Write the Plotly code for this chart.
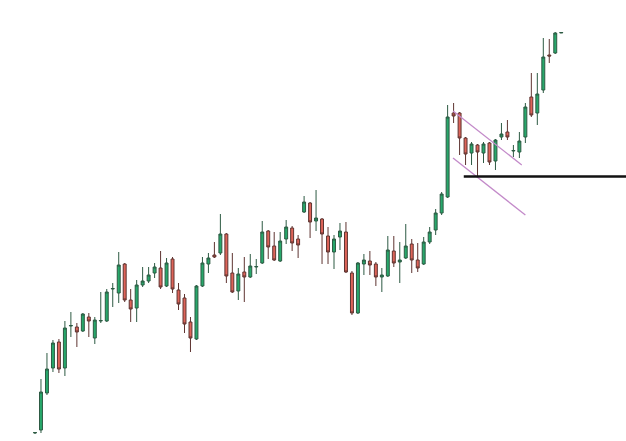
import plotly.graph_objects as go

# Candle data (index order), prices
opens = [8, 11, 48, 73, 99, 73, 115, 114, 110, 124, 103, 120, 120, 152, 148, 177, 141, 133, 156, 160,
         168, 173, 155, 182, 151, 143, 119, 102, 155, 177, 186, 188, 207, 168, 150, 169, 164, 174, 178, 210,
         195, 180, 202, 213, 202, 229, 238, 220, 222, 205, 189, 204, 209, 168, 128, 177, 180, 177, 164, 165,
         190, 179, 183, 197, 181, 177, 199, 211, 228, 244, 328, 328, 303, 288, 296, 288, 298, 280, 304, 309,
         290, 289, 304, 344, 328, 351, 386, 388, 408]
highs = [9, 62, 88, 101, 102, 120, 129, 118, 128, 128, 124, 149, 152, 158, 189, 178, 152, 161, 174, 174,
         178, 190, 183, 184, 158, 147, 124, 156, 184, 188, 199, 227, 208, 188, 173, 184, 187, 182, 220, 211,
         209, 209, 221, 215, 206, 245, 239, 251, 223, 214, 206, 218, 219, 170, 179, 187, 190, 179, 173, 205,
         205, 199, 217, 202, 198, 204, 214, 232, 249, 336, 338, 329, 304, 299, 297, 299, 299, 302, 318, 321,
         296, 309, 338, 368, 368, 403, 402, 409, 409]
lows = [7, 8, 46, 69, 68, 65, 104, 94, 109, 104, 97, 118, 119, 134, 138, 139, 119, 119, 154, 158,
        163, 152, 154, 148, 131, 108, 89, 101, 154, 168, 183, 186, 158, 148, 141, 139, 163, 167, 177, 182,
        180, 179, 197, 190, 183, 228, 203, 210, 177, 177, 172, 191, 168, 126, 127, 166, 166, 155, 149, 164,
        174, 158, 182, 168, 169, 176, 197, 206, 226, 243, 318, 286, 276, 276, 265, 278, 276, 271, 301, 301,
        284, 283, 298, 324, 316, 348, 378, 387, 408]
closes = [8.5, 49, 72, 98, 72, 113, 115.5, 109, 127, 120, 121, 120.5, 149, 152.5, 176, 141, 132, 156, 160, 166,
          174, 154, 178, 152, 137, 117, 103, 155, 178, 183, 184, 207, 165, 149, 167, 164, 175, 174.5, 209, 194,
          181, 200, 214, 198, 196, 239, 219, 223, 207, 189, 202, 210, 169, 128, 178, 181, 176, 164, 166, 191,
          178, 181, 195, 181, 173, 199, 209, 228, 247, 324, 325, 303, 287, 297, 289, 297, 279, 301, 307, 304,
          290.5, 300, 334, 326, 347, 384, 385, 408, 408.5]
idx = list(range(len(opens)))

# Annotation lines (index, price)
channel_upper = [(69.9, 330), (81.4, 276)]
channel_lower = [(69.9, 283), (82.0, 226)]
support_level = 264.5
support_start = 71.7

fig = go.Figure()
fig.add_trace(go.Candlestick(
    x=idx, open=opens, high=highs, low=lows, close=closes,
    increasing=dict(fillcolor="#27a86b", line=dict(color="#2d5a43", width=1)),
    decreasing=dict(fillcolor="#de6459", line=dict(color="#5e3431", width=1)),
    whiskerwidth=0,
    hoverinfo="skip",
))

for (a, b) in [channel_upper, channel_lower]:
    fig.add_shape(type="line", xref="x", yref="y", x0=a[0], y0=a[1], x1=b[0], y1=b[1],
                  line=dict(color="#c38ac9", width=1.3))
fig.add_shape(type="line", xref="x", yref="y", x0=support_start, y0=support_level, x1=110, y1=support_level,
              line=dict(color="#111111", width=2.5))

fig.update_layout(
    width=626, height=441,
    margin=dict(l=0, r=0, t=0, b=0),
    paper_bgcolor="white", plot_bgcolor="white",
    showlegend=False,
    xaxis=dict(range=[-35 / 5.98, (626 - 35) / 5.98], visible=False, rangeslider=dict(visible=False)),
    yaxis=dict(range=[0, 441], visible=False),
)
fig.write_html("out.html", config={"displayModeBar": False},
               post_script="document.body.style.margin='0';document.body.style.overflow='hidden';")
